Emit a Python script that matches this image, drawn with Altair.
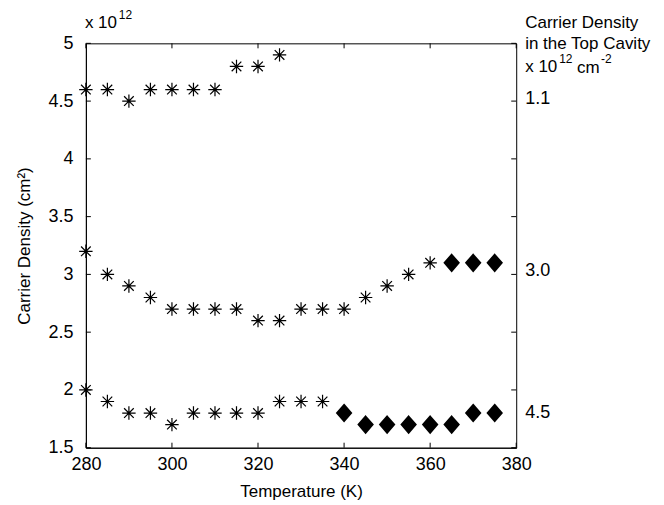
import altair as alt
import pandas as pd

# ---- data ----
top_T = [280, 285, 290, 295, 300, 305, 310, 315, 320, 325]
top_N = [4.6, 4.6, 4.5, 4.6, 4.6, 4.6, 4.6, 4.8, 4.8, 4.9]

mid_T = [280, 285, 290, 295, 300, 305, 310, 315, 320, 325, 330, 335, 340, 345, 350, 355, 360]
mid_N = [3.2, 3.0, 2.9, 2.8, 2.7, 2.7, 2.7, 2.7, 2.6, 2.6, 2.7, 2.7, 2.7, 2.8, 2.9, 3.0, 3.1]
mid_dT = [365, 370, 375]
mid_dN = [3.1, 3.1, 3.1]

bot_T = [280, 285, 290, 295, 300, 305, 310, 315, 320, 325, 330, 335]
bot_N = [2.0, 1.9, 1.8, 1.8, 1.7, 1.8, 1.8, 1.8, 1.8, 1.9, 1.9, 1.9]
bot_dT = [340, 345, 350, 355, 360, 365, 370, 375]
bot_dN = [1.8, 1.7, 1.7, 1.7, 1.7, 1.7, 1.8, 1.8]

x_ticks = [280, 300, 320, 340, 360, 380]
y_ticks = [1.5, 2.0, 2.5, 3.0, 3.5, 4.0, 4.5, 5.0]

right_labels = ["1.1", "3.0", "4.5"]
right_label_y = [4.52, 3.03, 1.8]
right_label_x = [380, 380, 380]

W, H = 431, 405
FONT = "Liberation Sans"

stars = pd.DataFrame({"T": top_T + mid_T + bot_T, "N": top_N + mid_N + bot_N})
diamonds = pd.DataFrame({"T": mid_dT + bot_dT, "N": mid_dN + bot_dN})

xs = alt.Scale(domain=[280, 380], nice=False, zero=False)
ys = alt.Scale(domain=[1.5, 5], nice=False, zero=False)

STAR = "M-1,0L1,0M0,-1L0,1M-0.72,-0.72L0.72,0.72M-0.72,0.72L0.72,-0.72"
DIAM = "M0,-1.15L1,0L0,1.15L-1,0Z"

base_x = alt.X("T:Q", scale=xs, axis=alt.Axis(
    values=x_ticks, title="Temperature (K)", tickSize=0, labelPadding=8,
    labelFontSize=18, titleFontSize=17, titlePadding=10, grid=False,
    labelFont=FONT, titleFont=FONT, labelColor="black", titleColor="black",
    domainColor="black", titleFontWeight="normal", labelFlush=False))
base_y = alt.Y("N:Q", scale=ys, axis=alt.Axis(
    values=y_ticks, title="Carrier Density (cm²)", tickSize=0, labelPadding=13,
    labelFontSize=18, titleFontSize=17, titlePadding=14, grid=False,
    labelFont=FONT, titleFont=FONT, labelColor="black", titleColor="black",
    domainColor="black", titleFontWeight="normal", labelExpr="'' + datum.value",
    labelFlush=False))

star_layer = alt.Chart(stars).mark_point(
    shape=STAR, size=180, stroke="black", strokeWidth=1.2, filled=False, opacity=1
).encode(x=base_x, y=base_y)

diam_layer = alt.Chart(diamonds).mark_point(
    shape=DIAM, size=196, fill="black", filled=True, stroke="black", opacity=1
).encode(x=alt.X("T:Q", scale=xs), y=alt.Y("N:Q", scale=ys))

xt = pd.DataFrame({"T": x_ticks})
yt = pd.DataFrame({"N": y_ticks})
tick_style = dict(color="black", strokeWidth=1)
xt_bot = alt.Chart(xt).mark_rule(**tick_style).encode(
    x=alt.X("T:Q", scale=xs), y=alt.value(H), y2=alt.value(H - 5))
xt_top = alt.Chart(xt).mark_rule(**tick_style).encode(
    x=alt.X("T:Q", scale=xs), y=alt.value(0), y2=alt.value(5))
yt_left = alt.Chart(yt).mark_rule(**tick_style).encode(
    y=alt.Y("N:Q", scale=ys), x=alt.value(0), x2=alt.value(5))
yt_right = alt.Chart(yt).mark_rule(**tick_style).encode(
    y=alt.Y("N:Q", scale=ys), x=alt.value(W), x2=alt.value(W - 5))

rl = pd.DataFrame({"T": right_label_x, "N": right_label_y, "lab": right_labels})
right_text = alt.Chart(rl).mark_text(
    align="left", baseline="middle", dx=9, fontSize=18, font=FONT, color="black"
).encode(x=alt.X("T:Q", scale=xs), y=alt.Y("N:Q", scale=ys), text="lab:N")

def txt(s, x, y, size=17, align="left"):
    return alt.Chart(pd.DataFrame({"t": [s]})).mark_text(
        align=align, baseline="middle", fontSize=size, font=FONT, color="black"
    ).encode(x=alt.value(x), y=alt.value(y), text="t:N")

ann = [
    txt("x 10", -1, -20, 17),
    txt("12", 33, -28, 12),
    txt("Carrier Density", 440, -20, 17),
    txt("in the Top Cavity", 440, 1, 17),
    txt("x 10", 440, 24, 17),
    txt("12", 474, 16, 12),
    txt("cm", 492, 25, 17),
    txt("-2", 516, 16, 12),
]

chart = alt.layer(
    star_layer, diam_layer, xt_bot, xt_top, yt_left, yt_right, right_text, *ann
).properties(
    width=W, height=H,
    autosize=alt.AutoSizeParams(type="none"),
    padding={"left": 78, "top": 35, "right": 140, "bottom": 57},
    background="white",
).configure_view(stroke="black", strokeWidth=1)

chart.save("out.html", embed_options={"renderer": "svg", "actions": False})
